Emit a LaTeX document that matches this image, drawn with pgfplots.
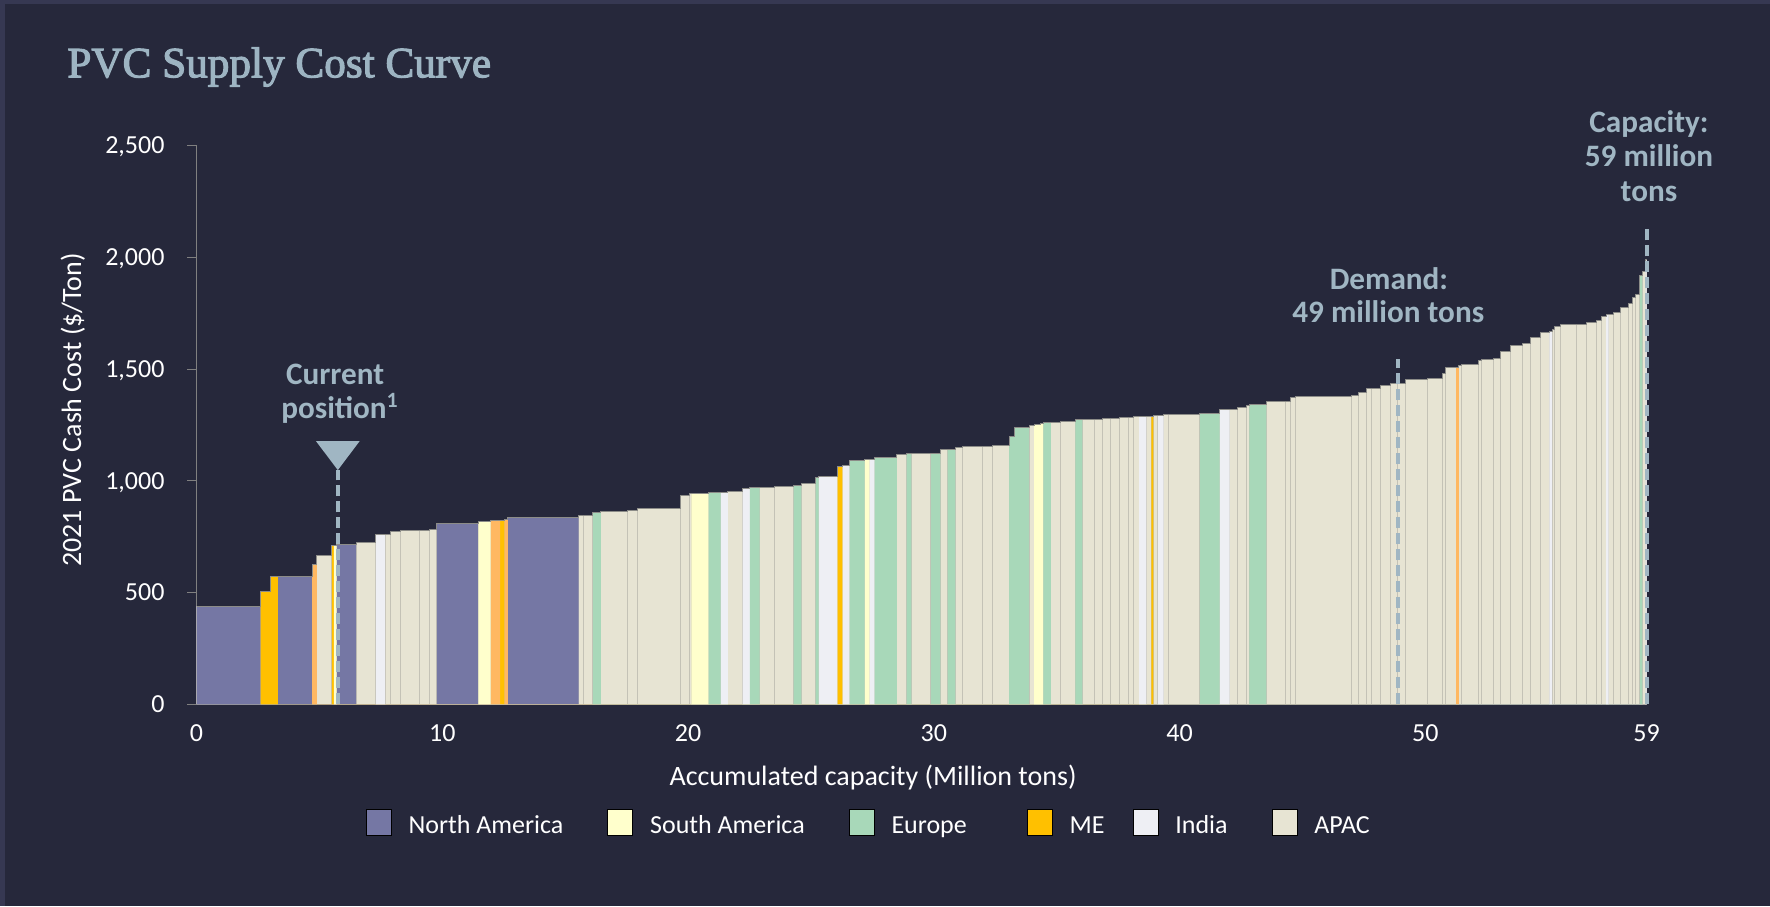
\documentclass[border=0pt]{standalone}
\usepackage{fontspec}
\setmainfont{Carlito}
\newfontfamily\titlefont{Liberation Serif}[FakeBold=2.5]
\usepackage{pgfplots}
\pgfplotsset{compat=1.18}
\usepackage{pgfplotstable}

\definecolor{bgc}{RGB}{38,40,59}
\definecolor{bgborder}{RGB}{54,56,82}
\definecolor{NAc}{RGB}{117,119,164}
\definecolor{SAc}{RGB}{255,255,204}
\definecolor{EUc}{RGB}{168,216,185}
\definecolor{MEc}{RGB}{255,192,0}
\definecolor{ORc}{RGB}{255,184,98}
\definecolor{INc}{RGB}{238,239,244}
\definecolor{APc}{RGB}{231,228,211}
\definecolor{annoc}{RGB}{160,182,195}
\definecolor{titlec}{RGB}{157,180,194}
\definecolor{axisgray}{RGB}{128,128,128}
\definecolor{sepc}{RGB}{196,194,182}
\definecolor{topc}{RGB}{140,140,136}

% full supply curve: left edge of each plant (Million tons), cash cost ($/Ton)
\pgfplotstableread{
x h
0 440
2.61 506
3.00 571
3.31 574
4.70 628
4.90 667
5.51 710
5.59 713
5.70 716
6.49 723
7.30 759
7.68 762
7.88 774
8.29 779
9.09 780
9.48 784
9.78 807
11.47 819
11.97 823
12.35 823
12.54 826
12.67 838
15.55 843
15.73 843
16.13 859
16.45 864
17.55 869
17.94 875
19.71 935
20.04 942
20.14 945
20.84 948
21.33 950
21.62 953
22.22 965
22.52 968
22.91 972
23.51 975
24.30 978
24.61 990
25.19 1014
25.31 1021
26.08 1062
26.29 1069
26.58 1089
26.90 1093
27.19 1097
27.39 1097
27.59 1105
28.29 1106
28.50 1120
28.89 1123
29.09 1124
29.88 1124
30.27 1141
30.56 1142
30.88 1150
31.17 1154
31.97 1155
32.37 1159
33.07 1199
33.27 1239
33.88 1248
34.08 1250
34.34 1258
34.46 1262
34.76 1262
35.16 1267
35.76 1275
36.05 1276
36.55 1276
36.86 1279
37.17 1279
37.55 1284
37.93 1284
38.13 1286
38.35 1286
38.65 1288
38.85 1289
38.93 1291
39.12 1293
39.35 1295
39.56 1297
40.83 1302
41.63 1318
42.04 1321
42.34 1326
42.73 1338
42.84 1342
43.53 1356
44.31 1356
44.52 1372
44.72 1378
46.99 1382
47.30 1397
47.61 1411
47.79 1414
48.19 1427
48.60 1435
48.87 1437
49.19 1454
50.09 1458
50.70 1481
50.81 1509
51.25 1509
51.36 1515
51.49 1522
52.18 1539
52.30 1543
52.79 1549
53.07 1580
53.46 1606
53.97 1613
54.28 1639
54.67 1664
55.05 1667
55.16 1676
55.27 1689
55.51 1698
56.15 1698
56.57 1709
56.98 1715
57.16 1736
57.36 1745
57.46 1746
57.67 1751
57.96 1776
58.28 1795
58.42 1822
58.56 1834
58.73 1920
58.83 1935
58.95 1990
59.00 1990
}\curve

\begin{document}
\begin{tikzpicture}
\fill[bgborder] (0,0) rectangle (885pt,453pt);
\fill[bgc] (2.3pt,0) rectangle (885pt,451pt);
\path[use as bounding box] (0,0) rectangle (885pt,453pt);
\node[anchor=base west, text=titlec, font=\titlefont\fontsize{21.6}{26}\selectfont, inner sep=0pt] at (33.5pt,414.35pt) {PVC Supply Cost Curve};

\begin{axis}[
  at={(98.25pt,100.8pt)}, anchor=south west,
  scale only axis, width=725pt, height=279.45pt,
  xmin=0, xmax=59, ymin=0, ymax=2500,
  clip=false,
  axis lines*=left,
  axis line style={draw=axisgray, line width=0.5pt, -},
  tick align=outside,
  major tick length=4.5pt,
  xtick={0,10,20,30,40,50,59},
  ytick={0,500,1000,1500,2000,2500},
  xtick style={draw=none},
  ytick style={draw=axisgray, line width=0.5pt},
  /pgf/number format/.cd, 1000 sep={,}, assume math mode=true, /pgfplots/.cd,
  ticklabel style={font=\fontsize{13}{15}\selectfont, text=white},
  xticklabel style={anchor=base, yshift=-14.1pt},
  yticklabel style={anchor=base east, inner sep=0pt, xshift=-11.3pt, yshift=-4.1pt},
  xlabel={Accumulated capacity (Million tons)},
  ylabel={2021 PVC Cash Cost (\$/Ton)},
  every axis x label/.style={at={(axis description cs:0.4666,-0.1451)}, anchor=base, font=\fontsize{14}{16}\selectfont, text=white},
  every axis y label/.style={at={(axis description cs:-0.0852,0.5268)}, anchor=center, rotate=90, font=\fontsize{14}{16}\selectfont, text=white},
  legend columns=6,
  legend image code/.code={\fill[#1] (0pt,-4.5pt) rectangle (12.5pt,8.5pt);},
  legend style={at={(axis description cs:0.1167,-0.2119)}, anchor=west, draw=none, fill=none,
    inner sep=0pt, outer sep=0pt, text=white, font=\fontsize{13}{15}\selectfont,
    nodes={inner sep=0pt},
    /tikz/every odd column/.append style={column sep=8.5pt},
    /tikz/every even column/.append style={column sep=22pt}},
]
% APAC base: whole curve
\addplot[const plot, fill=APc, draw=none, forget plot] table[x=x, y=h] {\curve} \closedcycle;
% plant separators
\addplot[ycomb, draw=sepc, line width=0.5pt, mark=none, forget plot] table[x=x, y=h] {\curve};
% North America
\addplot[const plot, fill=NAc, draw=none, forget plot] coordinates {(0,440) (2.61,0) (3.31,574) (4.70,0) (5.70,716) (6.49,0) (9.78,807) (11.47,0) (12.67,838) (15.55,0)} \closedcycle;
% ME
\addplot[const plot, fill=MEc, draw=none, forget plot] coordinates {(2.61,506) (3.00,571) (3.31,0) (5.51,710) (5.59,0) (12.35,823) (12.54,0) (26.08,1062) (26.29,0) (38.85,1289) (38.93,0)} \closedcycle;
% ME (orange shade)
\addplot[const plot, fill=ORc, draw=none, forget plot] coordinates {(4.70,628) (4.90,0) (11.97,823) (12.35,0) (12.54,826) (12.67,0) (51.25,1509) (51.36,0)} \closedcycle;
% South America
\addplot[const plot, fill=SAc, draw=none, forget plot] coordinates {(5.59,713) (5.70,0) (11.47,819) (11.97,0) (20.14,945) (20.84,0) (27.19,1097) (27.39,0) (34.08,1250) (34.34,1258) (34.46,0)} \closedcycle;
% India
\addplot[const plot, fill=INc, draw=none, forget plot] coordinates {(7.30,759) (7.68,0) (21.33,950) (21.62,0) (22.22,965) (22.52,0) (25.31,1021) (26.08,0) (26.29,1069) (26.58,0) (27.39,1097) (27.59,0) (38.35,1286) (38.65,0) (39.12,1293) (39.35,0) (41.63,1318) (42.04,0) (55.05,1667) (55.16,0) (57.36,1745) (57.46,0) (58.95,1990) (59,0)} \closedcycle;
% Europe
\addplot[const plot, fill=EUc, draw=none, forget plot] coordinates {(16.13,859) (16.45,0) (20.84,948) (21.33,0) (22.52,968) (22.91,0) (24.30,978) (24.61,0) (25.19,1014) (25.31,0) (26.58,1089) (26.90,1093) (27.19,0) (27.59,1105) (28.29,1106) (28.50,0) (28.89,1123) (29.09,0) (29.88,1124) (30.27,0) (30.56,1142) (30.88,0) (33.07,1199) (33.27,1239) (33.88,0) (34.46,1262) (34.76,0) (35.76,1275) (36.05,0) (40.83,1302) (41.63,0) (42.84,1342) (43.53,0) (58.73,1920) (58.83,0)} \closedcycle;
% top outline
\addplot[const plot, draw=topc, line width=0.5pt, forget plot] table[x=x, y=h] {\curve};

% markers: current position, demand, capacity
\addplot[annoc, line width=2pt, dash pattern=on 5.5pt off 2.5pt, forget plot] coordinates {(5.75,0) (5.75,1048)};
\addplot[fill=annoc, draw=none, forget plot] coordinates {(4.86,1178) (6.64,1178) (5.75,1048)} -- cycle;
\addplot[annoc, line width=2pt, dash pattern=on 5.5pt off 2.5pt, forget plot] coordinates {(48.9,0) (48.9,1545)};
\addplot[annoc, line width=2pt, dash pattern=on 5.5pt off 2.5pt, forget plot] coordinates {(59.02,0) (59.02,2130)};

\node[anchor=base, text=annoc, font=\bfseries\fontsize{15.6}{18}\selectfont, inner sep=0pt] at (axis cs:5.64,1429) {Current};
\node[anchor=base, text=annoc, font=\bfseries\fontsize{15.6}{18}\selectfont, inner sep=0pt] at (axis cs:5.84,1281) {position\textsuperscript{1}};
\node[anchor=base, text=annoc, font=\bfseries\fontsize{15.6}{18}\selectfont, inner sep=0pt] at (axis cs:48.52,1858) {Demand:};
\node[anchor=base, text=annoc, font=\bfseries\fontsize{15.6}{18}\selectfont, inner sep=0pt] at (axis cs:48.49,1709) {49 million tons};
\node[anchor=base, text=annoc, font=\bfseries\fontsize{15.6}{18}\selectfont, inner sep=0pt] at (axis cs:59.1,2560) {Capacity:};
\node[anchor=base, text=annoc, font=\bfseries\fontsize{15.6}{18}\selectfont, inner sep=0pt] at (axis cs:59.1,2405) {59 million};
\node[anchor=base, text=annoc, font=\bfseries\fontsize{15.6}{18}\selectfont, inner sep=0pt] at (axis cs:59.1,2248) {tons};

% legend
\addlegendimage{fill=NAc}
\addlegendimage{fill=SAc}
\addlegendimage{fill=EUc}
\addlegendimage{fill=MEc}
\addlegendimage{fill=INc}
\addlegendimage{fill=APc}
\legend{North America, South America, Europe\hspace*{8pt}, ME\hspace*{-8pt}, India, APAC}
\end{axis}
\end{tikzpicture}
\end{document}
